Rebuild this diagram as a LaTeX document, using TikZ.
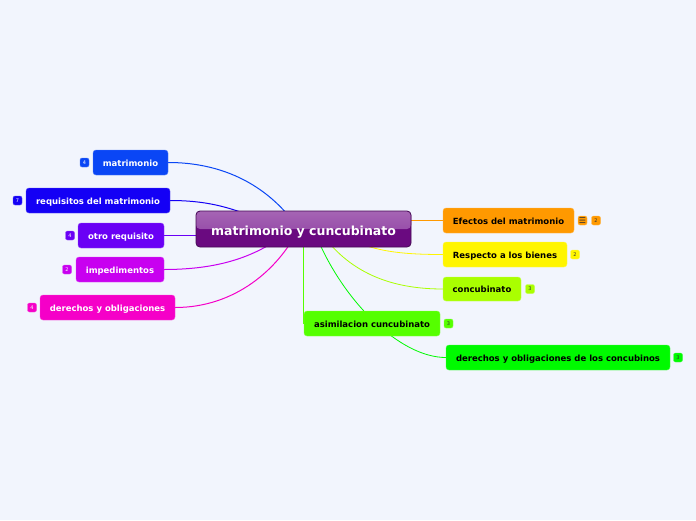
\documentclass[tikz,border=0pt]{standalone}
\usepackage{fontspec}
\setmainfont{DejaVu Sans}
\usetikzlibrary{calc}
\pgfdeclarelayer{back}
\pgfsetlayers{back,main}
\definecolor{bg}{RGB}{242,245,253}
\definecolor{cblue}{RGB}{10,70,245}
\definecolor{croyal}{RGB}{20,0,245}
\definecolor{cviolet}{RGB}{106,0,245}
\definecolor{cpurple}{RGB}{200,0,240}
\definecolor{cmagenta}{RGB}{245,0,200}
\definecolor{corange}{RGB}{255,153,0}
\definecolor{cyellow}{RGB}{255,245,0}
\definecolor{clime}{RGB}{170,255,0}
\definecolor{cgreen}{RGB}{85,255,0}
\definecolor{cbright}{RGB}{0,250,0}
\definecolor{ctop}{RGB}{165,100,180}
\definecolor{cmid}{RGB}{140,60,160}
\definecolor{cdark}{RGB}{106,10,128}
\definecolor{cborder}{RGB}{70,10,85}
\tikzset{
  box/.style={rounded corners=3pt, minimum height=25pt, inner sep=0pt, text height=7.6pt, text depth=0pt, font=\bfseries\fontsize{8.5}{10}\selectfont},
  lbox/.style={box, fill=#1, draw=#1!70!white, text=white},
  rbox/.style={box, fill=#1, draw=#1!70!white, text=black},
  badge/.style={rounded corners=2pt, minimum width=9pt, minimum height=9pt, inner sep=0pt, fill=#1, draw=#1!70!white, font=\fontsize{5}{5}\selectfont},
  lbadge/.style={badge=#1, text=white},
  rbadge/.style={badge=#1, text=black!80},
  link/.style={line width=1pt, draw=#1},
}
\begin{document}
\begin{tikzpicture}[x=1pt,y=-1pt]
\begin{pgfonlayer}{back}
\fill[bg] (0,0) rectangle (696,520);
\end{pgfonlayer}
\useasboundingbox (0,0) rectangle (696,520);

% nodes
\node[lbox=cblue, minimum width=75pt] (n1) at (130.5,162.5) {matrimonio};
\node[lbox=croyal, minimum width=144pt] (n2) at (98,200.5) {requisitos del matrimonio};
\node[lbox=cviolet, minimum width=86pt] (n3) at (121,235.5) {otro requisito};
\node[lbox=cpurple, minimum width=88pt] (n4) at (120,269.5) {impedimentos};
\node[lbox=cmagenta, minimum width=135pt] (n5) at (107.5,307.5) {derechos y obligaciones};

\node[rbox=corange, minimum width=131pt] (r1) at (508.5,220.5) {Efectos del matrimonio};
\node[rbox=cyellow, minimum width=124pt] (r2) at (505,254.5) {Respecto a los bienes};
\node[rbox=clime, minimum width=78pt, minimum height=24pt] (r3) at (482,289) {concubinato};
\node[rbox=cgreen, minimum width=136pt] (r4) at (372,323.5) {asimilacion cuncubinato};
\node[rbox=cbright, minimum width=224pt] (r5) at (558,357.5) {derechos y obligaciones de los concubinos};

% central node
\node[rounded corners=4pt, minimum width=215pt, minimum height=36pt, inner sep=0pt,
  fill=cdark, draw=cborder, line width=0.8pt, text=white, text height=12pt, text depth=0pt,
  font=\bfseries\fontsize{12.5}{14}\selectfont,
  path picture={\fill[top color=ctop, bottom color=cmid] (path picture bounding box.north west) rectangle (path picture bounding box.east);}]
  (c) at (303.5,229) {matrimonio y cuncubinato};

% links (behind nodes)
\begin{pgfonlayer}{back}
\draw[link=cblue] (n1.east) .. controls +(70,0) and +(-20,-30) .. ([xshift=-5pt]c.center);
\draw[link=croyal] (n2.east) .. controls +(60,0) and +(-45,-10) .. ([xshift=-10pt]c.center);
\draw[link=cviolet] (n3.east) -- (c.center |- n3.east);
\draw[link=cpurple] (n4.east) .. controls +(60,0) and +(-30,25) .. ([xshift=-12pt]c.center);
\draw[link=cmagenta] (n5.east) .. controls +(60,0) and +(-20,40) .. ([xshift=-5pt]c.center);
\draw[link=corange, line width=0.8pt] (c.center |- r1.west) -- (r1.west);
\draw[link=cyellow, line width=0.8pt] ([xshift=30pt]c.center) .. controls +(30,22) and +(-45,0) .. (r2.west);
\draw[link=clime, line width=0.8pt] ([xshift=15pt]c.center) .. controls +(30,45) and +(-50,0) .. (r3.west);
\draw[link=cgreen, line width=0.8pt] (c.center) -- (c.center |- r4.west);
\draw[link=cbright, line width=0.8pt] ([xshift=10pt]c.center) .. controls +(27,71) and +(-46,0) .. (r5.west);
\end{pgfonlayer}

% badges
\node[lbadge=cblue] (b1) at (84.5,162.5) {4};
\node[lbadge=croyal] (b2) at (17.5,200.5) {7};
\node[lbadge=cviolet] (b3) at (70,235.5) {4};
\node[lbadge=cpurple] (b4) at (67,269.5) {2};
\node[lbadge=cmagenta] (b5) at (32,307.5) {4};
\node[rbadge=corange, font=\fontsize{8}{8}\selectfont] (i1) at (582.5,220.5) {☰};
\node[rbadge=corange] (b6) at (596,220.5) {2};
\node[rbadge=cyellow] (b7) at (575,254.5) {2};
\node[rbadge=clime] (b8) at (530,289) {3};
\node[rbadge=cgreen] (b9) at (448.5,323.5) {3};
\node[rbadge=cbright] (b10) at (678,357.5) {3};
\end{tikzpicture}
\end{document}
